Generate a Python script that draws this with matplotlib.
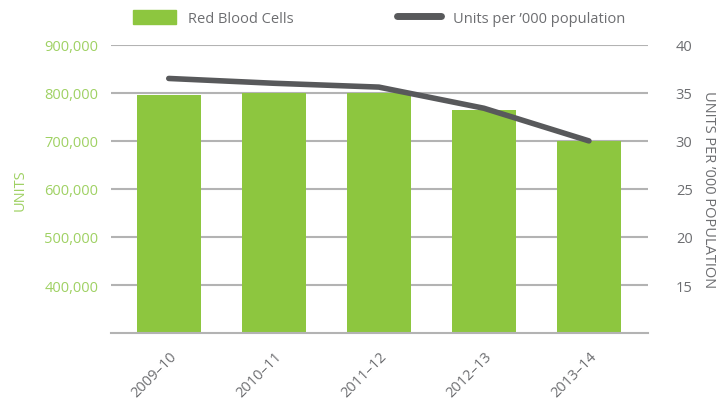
import matplotlib.pyplot as plt
from matplotlib.lines import Line2D
from matplotlib.patches import Patch

years = ['2009–10', '2010–11', '2011–12', '2012–13', '2013–14']
red_cells = [795800, 800000, 800000, 764600, 700000]
per_thousand = [36.5, 36.0, 35.6, 33.4, 30.0]

green = '#8dc63f'
label_green = '#9fd163'
dark = '#58595b'
grey_text = '#6d6e71'
grid_col = '#b3b3b3'

plt.rcParams['font.family'] = ['Open Sans', 'DejaVu Sans']


def run():
    fig = plt.figure(figsize=(7.24, 4.02), dpi=100)
    ax = fig.add_axes([0.153, 0.169, 0.742, 0.717])
    x = range(len(years))

    ax.bar(x, red_cells, width=0.61, color=green, zorder=1)
    ax.set_ylim(300000, 900000)
    ax.set_xlim(-0.552, 4.562)
    ax.set_yticks([400000, 500000, 600000, 700000, 800000, 900000])
    ax.set_yticklabels([f'{v:,}' for v in ax.get_yticks()])
    ax.yaxis.grid(True, color=grid_col, linewidth=1.5)
    ax.set_axisbelow(True)
    ax.tick_params(axis='y', length=0, pad=9, labelcolor=label_green, labelsize=10.5)
    ax.set_xticks(list(x))
    ax.set_xticklabels(years, rotation=45, ha='right', rotation_mode='anchor',
                       color=grey_text, fontsize=10.5)
    ax.tick_params(axis='x', length=0, pad=11)
    for s in ['top', 'left', 'right']:
        ax.spines[s].set_visible(False)
    ax.spines['bottom'].set_color(grid_col)
    ax.spines['bottom'].set_linewidth(1.5)
    ax.spines['bottom'].set_zorder(3)
    ax.set_ylabel('UNITS', color=label_green, fontsize=10.5, labelpad=12)

    ax2 = ax.twinx()
    ax2.plot(list(x), per_thousand, color=dark, linewidth=4, solid_capstyle='round',
             solid_joinstyle='round')
    ax2.set_ylim(10, 40)
    ax2.set_yticks([15, 20, 25, 30, 35, 40])
    ax2.yaxis.set_tick_params(which='major', length=0, pad=20, labelcolor=grey_text,
                              labelsize=10.5)
    for s in ['top', 'left', 'right', 'bottom']:
        ax2.spines[s].set_visible(False)
    ax2.set_ylabel("UNITS PER \u2019000 POPULATION", color=grey_text, fontsize=10.5,
                   rotation=-90, labelpad=17)

    handles = [Patch(color=green),
               Line2D([0], [0], color=dark, linewidth=5, solid_capstyle='round')]
    fig.legend(handles, ['Red Blood Cells', "Units per \u2019000 population"],
               loc='upper center', bbox_to_anchor=(0.523, 1.005), ncol=2, frameon=False,
               fontsize=10.5, labelcolor=grey_text, columnspacing=7.1,
               handlelength=3.0, handleheight=1.1, handletextpad=0.8)

    fig.savefig('out.png', dpi=100)


if __name__ == '__main__':
    run()
